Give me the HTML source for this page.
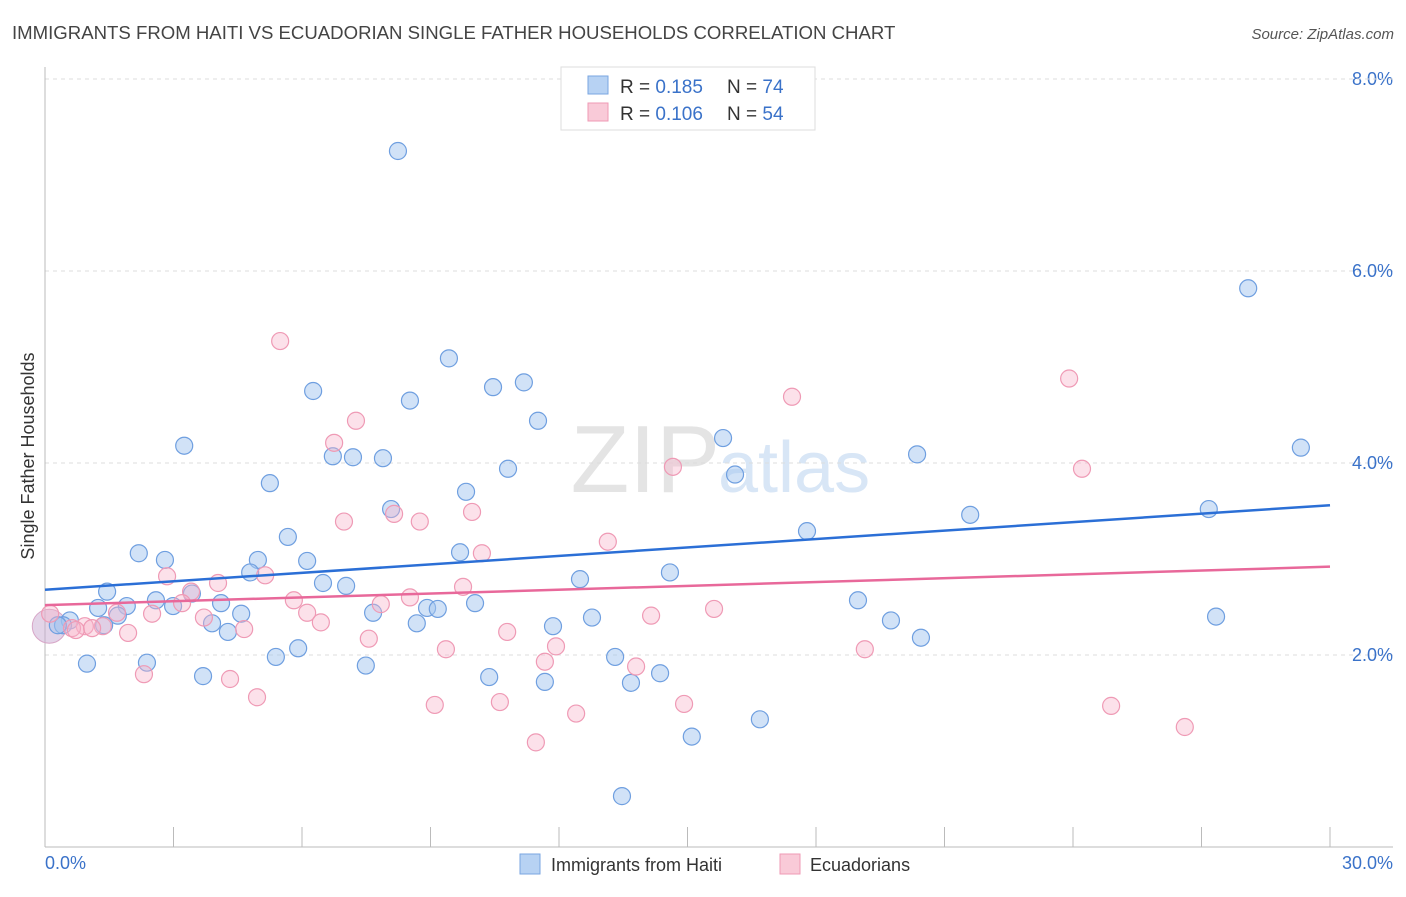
<!DOCTYPE html>
<html><head><meta charset="utf-8"><style>
body{margin:0;background:#fff;font-family:"Liberation Sans",sans-serif}
svg text{font-family:"Liberation Sans",sans-serif}
</style></head><body>
<svg id="chart" width="1406" height="892">
<text x="12" y="39" font-size="18.6" fill="#444">IMMIGRANTS FROM HAITI VS ECUADORIAN SINGLE FATHER HOUSEHOLDS CORRELATION CHART</text>
<text x="1394" y="39" font-size="15" fill="#555" font-style="italic" text-anchor="end">Source: ZipAtlas.com</text>
<text x="720" y="492" font-size="96" fill="#e4e4e4" text-anchor="end" font-family="Liberation Serif">ZIP</text>
<text x="718" y="492" font-size="72" fill="#d8e6f6">atlas</text>
<g id="grid"></g>
<g id="axes"></g>
<g id="pts"></g>
<g id="trend"></g>
<text transform="translate(34,456) rotate(-90)" font-size="18" fill="#333" text-anchor="middle">Single Father Households</text>
<text x="45" y="869" font-size="18" fill="#3a72c9">0.0%</text>
<text x="1393" y="869" font-size="18" fill="#3a72c9" text-anchor="end">30.0%</text>
<g>
<rect x="561" y="67" width="254" height="63" fill="#fff" stroke="#ddd"/>
<rect x="588" y="76" width="20" height="18" fill="#b7d2f3" stroke="#7aa6e0"/>
<rect x="588" y="103" width="20" height="18" fill="#f9cad8" stroke="#ef9ab5"/>
<text x="620" y="93" font-size="19" fill="#333">R = <tspan fill="#3a72c9">0.185</tspan></text>
<text x="727" y="93" font-size="19" fill="#333">N = <tspan fill="#3a72c9">74</tspan></text>
<text x="620" y="120" font-size="19" fill="#333">R = <tspan fill="#3a72c9">0.106</tspan></text>
<text x="727" y="120" font-size="19" fill="#333">N = <tspan fill="#3a72c9">54</tspan></text>
</g>
<g>
<rect x="520" y="854" width="20" height="20" fill="#b7d2f3" stroke="#7aa6e0"/>
<text x="551" y="871" font-size="18" fill="#333">Immigrants from Haiti</text>
<rect x="780" y="854" width="20" height="20" fill="#f9cad8" stroke="#ef9ab5"/>
<text x="810" y="871" font-size="18" fill="#333">Ecuadorians</text>
</g>
</svg>
<script>
const yTicks=[2,4,6,8];
const xTickCount=10;
const blueX=[8.24,28.09,9.43,6.26,10.46,11.18,8.52,11.51,3.25,29.32,15.83,6.72,7.19,7.89,20.36,10.81,16.11,5.25,9.83,8.08,21.60,27.17,17.79,5.67,2.19,9.69,2.80,4.97,6.12,4.79,14.59,12.49,6.49,7.03,1.45,3.43,2.59,18.98,1.91,1.24,4.11,10.04,2.99,8.92,9.17,1.70,7.66,4.58,27.34,19.75,12.77,0.58,3.90,0.42,0.30,1.38,8.68,11.86,4.27,20.45,5.91,2.38,0.98,5.39,13.31,7.49,14.36,3.69,10.37,11.67,13.68,16.69,15.10,13.47];
const blueY=[7.25,5.82,5.09,4.75,4.79,4.84,4.65,4.44,4.18,4.16,4.26,4.07,4.06,4.05,4.09,3.94,3.88,3.79,3.70,3.52,3.46,3.52,3.29,3.23,3.06,3.07,2.99,2.99,2.98,2.86,2.86,2.79,2.75,2.72,2.66,2.64,2.57,2.57,2.51,2.49,2.54,2.54,2.51,2.49,2.48,2.41,2.44,2.43,2.40,2.36,2.39,2.36,2.33,2.31,2.31,2.31,2.33,2.30,2.24,2.18,2.07,1.92,1.91,1.98,1.98,1.89,1.81,1.78,1.77,1.72,1.71,1.33,1.15,0.53];
const pinkX=[5.49,23.91,17.44,7.26,6.75,14.66,24.21,8.15,9.97,6.98,8.75,13.14,10.20,2.85,4.04,5.14,3.41,8.52,5.81,9.76,3.20,6.12,2.50,14.15,15.62,7.84,3.71,6.44,1.68,1.94,4.65,1.35,0.93,0.12,0.63,10.79,7.56,11.93,9.36,19.14,11.67,13.80,2.31,4.32,4.95,9.10,10.62,14.92,24.89,12.40,26.61,11.46,0.72,1.10];
const pinkY=[5.27,4.88,4.69,4.44,4.21,3.96,3.94,3.47,3.49,3.39,3.39,3.18,3.06,2.82,2.75,2.83,2.66,2.60,2.57,2.71,2.54,2.44,2.43,2.41,2.48,2.53,2.39,2.34,2.44,2.23,2.27,2.30,2.30,2.43,2.28,2.24,2.17,2.09,2.06,2.06,1.93,1.88,1.80,1.75,1.56,1.48,1.51,1.49,1.47,1.39,1.25,1.09,2.26,2.28];
const blueTrend=[2.68,3.56];
const pinkTrend=[2.52,2.92];
const X0=45,X1=1330,XMAX=30,Y0=847,PPU=96;
const sx=v=>X0+v/XMAX*(X1-X0);
const sy=v=>Y0-v*PPU;
const NS="http://www.w3.org/2000/svg";
function mk(tag,parent,attrs){const e=document.createElementNS(NS,tag);for(const k in attrs)e.setAttribute(k,attrs[k]);document.getElementById(parent).appendChild(e);return e;}
for(const t of yTicks){
 const l=mk('line','grid',{x1:X0,x2:1393,y1:sy(t),y2:sy(t),stroke:'#ddd','stroke-dasharray':'4,4'});
 
 
 const tx=mk('text','grid',{x:1393,y:sy(t)+6,'font-size':18,fill:'#3a72c9','text-anchor':'end'});
 tx.textContent=t.toFixed(1)+'%';
 
 
}
const topLine=mk('line','grid',{x1:X0,x2:1393,y1:79,y2:79,stroke:'#ddd','stroke-dasharray':'4,4'});


const ya=mk('line','axes',{x1:X0,x2:X0,y1:67,y2:Y0,stroke:'#bbb'});


const xa=mk('line','axes',{x1:X0,x2:1393,y1:Y0,y2:Y0,stroke:'#bbb'});


for(let i=1;i<=xTickCount;i++){
 const x=sx(i*XMAX/xTickCount);
 const t=mk('line','axes',{x1:x,x2:x,y1:Y0-20,y2:Y0,stroke:'#bbb'});
 
 
}
const big=mk('circle','pts',{cx:sx(0.1),cy:sy(2.3),r:17,fill:'rgba(200,170,210,0.5)',stroke:'#d7a6c7'});


blueX.forEach((v,i)=>{
 const c=mk('circle','pts',{cx:sx(v),cy:sy(blueY[i]),r:8.5,fill:'rgba(164,198,240,0.5)',stroke:'#6f9fe0','stroke-width':1.2});
 
 
});
pinkX.forEach((v,i)=>{
 const c=mk('circle','pts',{cx:sx(v),cy:sy(pinkY[i]),r:8.5,fill:'rgba(247,180,202,0.4)',stroke:'#ef9ab5','stroke-width':1.2});
 
 
});
const bl=mk('line','trend',{x1:sx(0),x2:sx(XMAX),y1:sy(blueTrend[0]),y2:sy(blueTrend[1]),stroke:'#2b6fd6','stroke-width':2.5});


const pl=mk('line','trend',{x1:sx(0),x2:sx(XMAX),y1:sy(pinkTrend[0]),y2:sy(pinkTrend[1]),stroke:'#e8689a','stroke-width':2.5});


</script>
</body></html>
